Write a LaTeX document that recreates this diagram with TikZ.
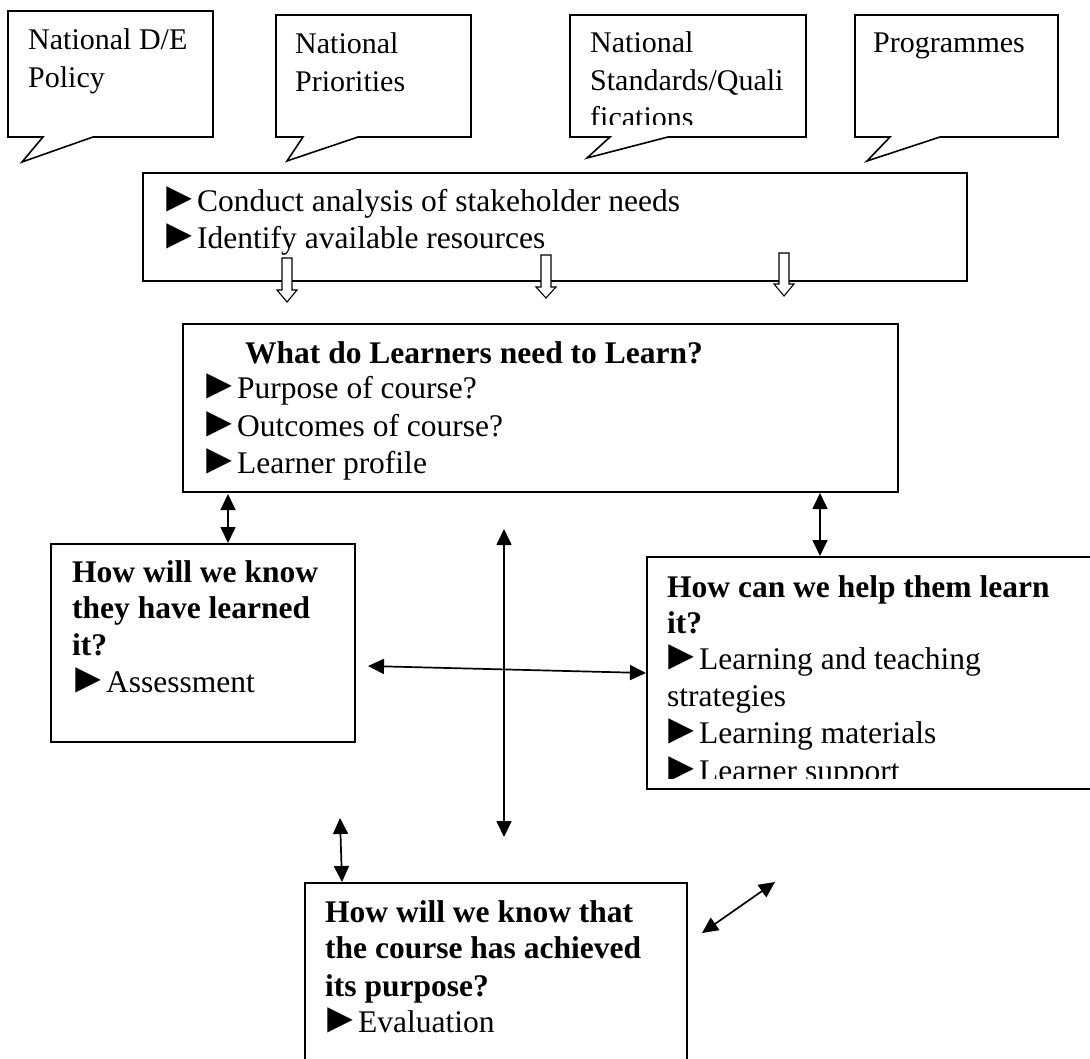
\documentclass[tikz,border=0pt]{standalone}
\usepackage{fontspec}
\setmainfont{Liberation Serif}
\newfontfamily\ptrfont{Liberation Sans}
\usetikzlibrary{arrows.meta}
\newcommand{\ptr}{\makebox[31pt][l]{\kern-8pt\smash{\scalebox{1.35}{\ptrfont ►}}}}
\newcommand{\mainsz}{\fontsize{31.5}{37}\selectfont}
\newcommand{\callsz}{\fontsize{30}{37}\selectfont}
\tikzset{
  frame/.style={draw, line width=1.8pt, inner sep=0pt, anchor=north west},
  ln/.style={anchor=base west, inner sep=0pt, font=\mainsz},
  cln/.style={anchor=base west, inner sep=0pt, font=\callsz},
  callout/.style={draw, line width=1.6pt, line join=miter},
  dbl/.style={line width=1.7pt, {Triangle[length=16pt,width=15pt]}-{Triangle[length=16pt,width=15pt]}},
  hollow/.style={draw, fill=white, line width=1.1pt, line join=miter}
}
\begin{document}
\begin{tikzpicture}[x=1pt, y=-1pt]
\clip (0,0) rectangle (1090,1059);
\fill[white] (0,0) rectangle (1090,1059);

% speech-bubble callouts along the top
\draw[callout] (8,11) -- (213,11) -- (213,137) -- (93,137) -- (22,162) -- (43,137) -- (8,137) -- cycle;
\draw[callout] (276,15) -- (471,15) -- (471,137) -- (358,137) -- (287,161) -- (303,137) -- (276,137) -- cycle;
\draw[callout] (570,15) -- (806,15) -- (806,137) -- (668,137) -- (587,158) -- (610,137) -- (570,137) -- cycle;
\draw[callout] (855,15) -- (1058,15) -- (1058,137) -- (940,137) -- (867,161) -- (890,137) -- (855,137) -- cycle;

\node[cln] (c1a) at (28,50) {National D/E};
\node[cln] (c1b) at (28,88) {Policy};
\node[cln] (c2a) at (295,54) {National};
\node[cln] (c2b) at (295,92) {Priorities};
\node[cln] (c3a) at (590,53) {National};
\node[cln] (c3b) at (590,91) {Standards/Quali};
\begin{scope}
  \clip (570,15) rectangle (806,125);
  \node[cln] (c3c) at (590,128) {fications};
\end{scope}
\node[cln] (c4a) at (873,53) {Programmes};

% needs-analysis box
\node[frame, minimum width=824pt, minimum height=108pt] (tb) at (142,172) {};
\node[ln] (tb1) at (166,212) {\ptr Conduct analysis of stakeholder needs};
\node[ln] (tb2) at (166,249) {\ptr Identify available resources};

% block arrows down to the central question
\draw[hollow] (282,258) -- (292,258) -- (292,290) -- (297,290) -- (287,302) -- (277,290) -- (282,290) -- cycle;
\draw[hollow] (541,255) -- (551,255) -- (551,287) -- (556,287) -- (546,298) -- (536,287) -- (541,287) -- cycle;
\draw[hollow] (779,253) -- (789,253) -- (789,284) -- (794,284) -- (784,296) -- (774,284) -- (779,284) -- cycle;

% central question
\node[frame, minimum width=715pt, minimum height=168pt] (mb) at (182,323) {};
\node[ln, font=\mainsz\bfseries] (mb0) at (245,363) {What do Learners need to Learn?};
\node[ln] (mb1) at (206,398) {\ptr Purpose of course?};
\node[ln] (mb2) at (206,436) {\ptr Outcomes of course?};
\node[ln] (mb3) at (206,473) {\ptr Learner profile};

% assessment
\node[frame, minimum width=304pt, minimum height=198pt] (lb) at (50,543) {};
\node[ln, font=\mainsz\bfseries] (lb1) at (72,582) {How will we know};
\node[ln, font=\mainsz\bfseries] (lb2) at (72,618) {they have learned};
\node[ln, font=\mainsz\bfseries] (lb3) at (72,655) {it?};
\node[ln] (lb4) at (75,692) {\ptr Assessment};

% learning and teaching
\node[frame, minimum width=449pt, minimum height=232pt] (rb) at (646,556) {};
\node[ln, font=\mainsz\bfseries] (rb1) at (667,597) {How can we help them learn};
\node[ln, font=\mainsz\bfseries] (rb2) at (667,633) {it?};
\node[ln] (rb3) at (668,669) {\ptr Learning and teaching};
\node[ln] (rb4) at (667,706) {strategies};
\node[ln] (rb5) at (668,743) {\ptr Learning materials};
\begin{scope}
  \clip (646,556) rectangle (1090,778);
  \node[ln] (rb6) at (668,781) {\ptr Learner support};
\end{scope}

% evaluation
\node[frame, minimum width=382pt, minimum height=190pt] (bb) at (304,882) {};
\node[ln, font=\mainsz\bfseries] (bb1) at (325,922) {How will we know that};
\node[ln, font=\mainsz\bfseries] (bb2) at (325,958) {the course has achieved};
\node[ln, font=\mainsz\bfseries] (bb3) at (325,996) {its purpose?};
\node[ln] (bb4) at (327,1032) {\ptr Evaluation};

% two-way links
\coordinate (a1) at (228,494);
\draw[dbl] (a1) -- (a1 |- lb.north);
\coordinate (a2) at (820,493);
\draw[dbl] (a2) -- (a2 |- rb.north);
\coordinate (vt) at (504,529);
\coordinate (vb) at (504,837);
\draw[dbl] (vt) -- (vb);
\coordinate (hl) at (368,666);
\draw[dbl] (hl) -- ([yshift=-117pt]rb.north west);
\coordinate (bl) at (340,818);
\draw[dbl] (bl) -- ([xshift=38pt]bb.north west);
\coordinate (d1) at (702,933);
\coordinate (d2) at (775,882);
\draw[dbl] (d1) -- (d2);
\end{tikzpicture}
\end{document}
